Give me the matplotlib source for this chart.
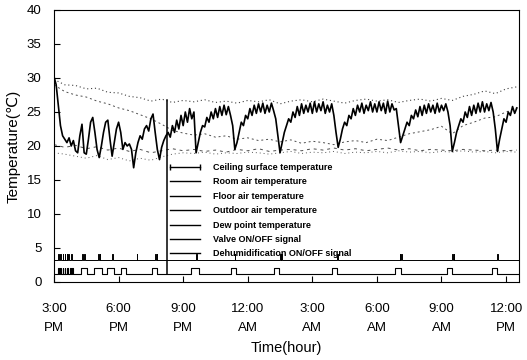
import numpy as np
import matplotlib
matplotlib.use("Agg")
import matplotlib.pyplot as plt
from matplotlib.lines import Line2D

plt.rcParams['font.family'] = ['Liberation Sans', 'DejaVu Sans']

# room air temperature, sampled every 0.1 h from 3:00 PM
room_air = [
    30.2, 29.0, 26.0, 23.0, 21.5, 21.0, 20.5, 21.2, 20.0, 20.8,
    19.3, 19.0, 21.5, 23.2, 19.0, 18.8, 21.0, 23.5, 24.2, 22.0,
    19.5, 18.3, 20.0, 22.0, 23.5, 23.8, 21.0, 18.5, 20.5, 22.5,
    23.5, 22.0, 19.5, 20.5, 20.0, 20.3, 19.5, 16.8, 19.0, 20.5,
    21.5, 21.0, 22.5, 23.0, 22.2, 24.0, 24.7, 22.0, 19.5, 18.0,
    19.8, 20.8, 21.5, 22.0, 21.3, 23.0, 22.0, 23.8, 22.5, 24.5,
    23.0, 25.0, 23.5, 25.5, 24.0, 25.0, 19.0, 20.5, 22.0, 23.0,
    22.8, 24.2, 23.5, 25.0, 24.0, 25.5, 24.2, 25.8, 24.5, 26.0,
    24.6, 25.8, 24.5, 23.0, 19.5, 20.5, 22.0, 23.5, 23.0, 24.5,
    24.0, 25.5, 24.5, 26.0, 24.8, 26.2, 25.0, 26.3, 24.8, 26.0,
    25.0, 26.3, 25.2, 24.0, 21.5, 19.0, 20.5, 22.0, 23.0, 24.0,
    23.5, 25.0, 24.2, 25.8, 24.5, 26.2, 24.8, 26.0, 25.0, 26.3,
    24.8, 26.5, 25.0, 26.2, 25.2, 26.5, 24.8, 26.0, 25.0, 26.2,
    24.5, 22.0, 19.8, 21.0, 22.5, 23.5, 23.0, 24.5, 24.0, 25.5,
    24.5, 26.0, 25.0, 26.3, 24.8, 26.0, 25.2, 26.5, 25.0, 26.2,
    25.0, 26.5, 25.2, 26.3, 24.8, 26.6, 25.0, 26.2, 25.3, 25.5,
    23.0, 20.5, 21.5, 22.5, 23.5, 23.0, 24.5, 24.0, 25.3, 24.3,
    25.8, 24.5, 26.0, 24.8, 26.2, 25.0, 26.0, 24.8, 26.3, 25.0,
    26.0, 25.2, 26.2, 25.0, 23.0, 19.2, 20.5, 22.0, 23.0, 24.0,
    23.5, 25.0, 24.2, 25.8, 24.5, 26.0, 24.8, 26.3, 25.0, 26.5,
    25.0, 26.2, 25.2, 26.4, 25.0, 22.5, 19.2, 21.0, 22.5, 24.0,
    23.5, 25.0, 24.5, 25.8, 24.8, 25.6,
]
room_t = np.arange(len(room_air)) * 0.1

# slower series, every 0.5 h
ceiling = [29.8, 29.0, 28.9, 28.4, 28.5, 27.9, 27.8, 27.3, 27.1, 26.6, 26.9,
           26.4, 26.7, 26.5, 26.8, 26.4, 26.6, 26.3, 26.7, 26.5, 26.8, 26.2,
           26.6, 26.8, 26.5, 26.9, 26.6, 26.3, 26.7, 26.9, 26.6, 26.8, 26.4,
           26.7, 26.9, 26.6, 27.0, 26.7, 27.3, 27.6, 28.1, 27.7, 28.4, 28.7]
floor_air = [29.0, 28.0, 27.5, 27.2, 26.6, 26.2, 25.6, 25.2, 24.6, 24.0, 23.2,
             22.3, 21.9, 21.6, 21.8, 21.3, 21.5, 21.0, 21.2, 20.8, 21.0, 20.6,
             20.9, 20.4, 20.7, 20.5, 20.2, 20.6, 20.8, 20.5, 21.0, 20.8, 21.3,
             21.8, 22.1, 22.4, 22.9, 21.8, 23.0, 23.5, 24.1, 24.3, 25.0, 25.6]
outdoor = [20.2, 19.8, 20.1, 19.6, 19.9, 19.4, 19.7, 19.2, 19.5, 19.0, 19.3,
           19.6, 19.3, 19.5, 19.2, 19.4, 19.1, 19.5, 19.3, 19.6, 19.2, 19.4,
           19.5, 19.3, 19.6, 19.4, 19.7, 19.4, 19.6, 19.3, 19.5, 19.7, 19.4,
           19.6, 19.3, 19.5, 19.4, 19.3, 19.5, 19.4, 19.3, 19.4, 19.3, 19.4]
dew_point = [19.0, 18.8, 18.5, 18.2, 18.6, 18.0, 18.3, 17.8, 18.2, 17.9, 18.4,
             18.8, 19.0, 18.9, 19.1, 18.8, 19.0, 18.9, 19.1, 19.0, 18.8, 19.0,
             19.2, 18.9, 19.1, 19.0, 19.2, 18.9, 19.1, 19.0, 19.2, 19.0, 19.3,
             19.1, 19.2, 19.0, 19.2, 19.1, 19.3, 19.1, 19.2, 19.0, 19.2, 19.1]
slow_t = np.arange(len(ceiling)) * 0.5

# ON/OFF signals (hours after 3:00 PM)
valve_on = [(0.2, 0.23), (0.3, 0.33), (0.4, 0.43), (0.5, 0.53), (0.6, 0.63),
            (0.75, 0.78), (0.85, 0.88), (1.25, 1.55), (1.85, 2.25), (2.45, 2.8),
            (3.1, 3.35), (4.55, 4.8), (6.35, 6.75), (8.2, 8.45), (10.2, 10.45),
            (12.9, 13.15), (15.85, 16.1), (18.25, 18.5), (20.35, 20.6)]
dehum_spikes = [0.2, 0.3, 0.4, 0.5, 0.6, 0.65, 0.8, 1.3, 1.4, 2.05, 2.12, 2.7,
                3.85, 4.7, 4.78, 6.6, 8.4, 10.5, 10.56, 13.15, 16.05, 16.12,
                18.5, 18.56, 20.6]
valve_low, valve_high = 1.2, 2.0
dehum_low, dehum_high = 3.2, 4.1
t_end = 21.6
marker_t = 5.25

xtick_hours = [0, 3, 6, 9, 12, 15, 18, 21]
xtick_labels = ["3:00\nPM", "6:00\nPM", "9:00\nPM", "12:00\nAM",
                "3:00\nAM", "6:00\nAM", "9:00\nAM", "12:00\nPM"]
legend_labels = ["Ceiling surface temperature", "Room air temperature",
                 "Floor air temperature", "Outdoor air temperature",
                 "Dew point temperature", "Valve ON/OFF signal",
                 "Dehumidification ON/OFF signal"]


def step_signal(intervals, low, high):
    xs, ys = [0], [low]
    for a, b in intervals:
        xs += [a, a, b, b]
        ys += [low, high, high, low]
    xs.append(t_end)
    ys.append(low)
    return xs, ys


fig = plt.figure(figsize=(5.27, 3.60), dpi=100)
ax = fig.add_axes([54 / 527, 1 - 282 / 360, 465 / 527, 272 / 360])

ax.plot(slow_t, ceiling, color="0.25", lw=0.8, ls=(0, (1, 2.5)))
ax.plot(slow_t, floor_air, color="0.3", lw=0.7, ls=(0, (2, 3)))
ax.plot(slow_t, outdoor, color="0.3", lw=0.7, ls=(0, (3, 4)))
ax.plot(slow_t, dew_point, color="0.35", lw=0.7, ls=(0, (1, 3)))
ax.plot(room_t, room_air, color="black", lw=1.2)

vx, vy = step_signal(valve_on, valve_low, valve_high)
ax.plot(vx, vy, color="black", lw=0.8)
dx, dy = step_signal([(s, s + 0.025) for s in dehum_spikes], dehum_low, dehum_high)
ax.plot(dx, dy, color="black", lw=0.7)

ax.plot([marker_t, marker_t], [valve_low, 26.8], color="black", lw=1.1)

handles = [Line2D([], [], color="black", lw=1.0, marker="|", markersize=5)]
handles += [Line2D([], [], color="black", lw=1.0) for _ in legend_labels[1:]]
leg = ax.legend(handles, legend_labels, loc="upper left",
                bbox_to_anchor=(marker_t, 17.5), bbox_transform=ax.transData,
                frameon=False, borderpad=0, borderaxespad=0, numpoints=2,
                handlelength=4.0, handletextpad=1.1, labelspacing=0.6,
                prop={"size": 6.5, "weight": "bold"})

ax.set_xlim(0, t_end)
ax.set_ylim(0, 40)
ax.set_yticks(range(0, 41, 5))
ax.set_xticks(xtick_hours)
ax.set_xticklabels(xtick_labels, linespacing=1.75)
ax.tick_params(direction="in", length=4, labelsize=9.5)
ax.tick_params(axis="x", pad=15)
ax.tick_params(axis="y", pad=9)
ax.set_xlabel("Time(hour)", fontsize=10.5, labelpad=5)
ax.set_ylabel("Temperature(\u2103)", fontsize=11, labelpad=4)

fig.savefig("out.png", dpi=100)
